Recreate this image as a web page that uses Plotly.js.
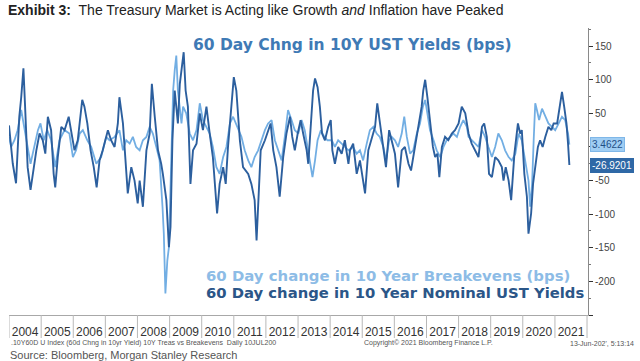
<!DOCTYPE html>
<html>
<head>
<meta charset="utf-8">
<script src="https://cdn.plot.ly/plotly-3.0.1.min.js"></script>
<style>html,body{margin:0;padding:0;background:#fff;}#chart{width:640px;height:361px;}</style>
</head>
<body>
<div id="chart"></div>
<script>
// ---- Data (time as decimal year, values in bps) ----
const nominalTime = [2004.00,2004.12,2004.22,2004.27,2004.32,2004.38,2004.45,2004.50,2004.53,2004.58,2004.67,2004.74,2004.85,2004.95,2005.05,2005.13,2005.21,2005.31,2005.39,2005.44,2005.52,2005.63,2005.73,2005.86,2005.94,2006.04,2006.14,2006.28,2006.35,2006.44,2006.54,2006.64,2006.73,2006.82,2006.92,2007.08,2007.18,2007.29,2007.39,2007.44,2007.55,2007.65,2007.70,2007.81,2007.91,2008.01,2008.07,2008.17,2008.28,2008.38,2008.45,2008.54,2008.64,2008.74,2008.79,2008.90,2008.98,2009.03,2009.09,2009.16,2009.21,2009.26,2009.32,2009.44,2009.50,2009.57,2009.65,2009.73,2009.84,2009.94,2010.04,2010.15,2010.25,2010.35,2010.48,2010.56,2010.67,2010.75,2010.82,2010.93,2011.00,2011.08,2011.19,2011.29,2011.45,2011.55,2011.65,2011.71,2011.76,2011.84,2011.97,2012.07,2012.15,2012.23,2012.33,2012.43,2012.54,2012.64,2012.75,2012.82,2012.90,2012.99,2013.08,2013.16,2013.27,2013.32,2013.40,2013.47,2013.53,2013.61,2013.68,2013.75,2013.84,2013.94,2014.02,2014.07,2014.15,2014.25,2014.36,2014.46,2014.57,2014.62,2014.72,2014.83,2014.93,2015.03,2015.09,2015.19,2015.30,2015.40,2015.47,2015.55,2015.66,2015.74,2015.84,2015.92,2016.02,2016.12,2016.23,2016.33,2016.44,2016.52,2016.65,2016.75,2016.85,2016.90,2016.96,2017.03,2017.11,2017.20,2017.27,2017.34,2017.40,2017.48,2017.58,2017.68,2017.79,2017.89,2018.00,2018.10,2018.21,2018.31,2018.41,2018.52,2018.62,2018.73,2018.80,2018.88,2018.95,2019.04,2019.14,2019.24,2019.35,2019.40,2019.47,2019.56,2019.64,2019.74,2019.85,2019.92,2019.97,2020.05,2020.13,2020.18,2020.26,2020.32,2020.39,2020.47,2020.54,2020.62,2020.70,2020.80,2020.89,2020.96,2021.07,2021.15,2021.22,2021.29,2021.36,2021.41,2021.45];
const nominalChange = [32,-25,-54,-5,45,74,117,60,25,-30,-64,-40,-5,20,10,-10,45,25,-40,-60,-15,30,25,45,20,-5,10,70,60,35,-5,-30,-60,-20,-5,25,10,0,35,74,35,-40,-69,-30,-50,-84,-50,-89,-5,20,94,45,-5,-25,-40,-79,-149,-119,10,84,60,35,94,141,84,60,-55,-5,5,50,25,60,20,-15,-99,-55,-30,-55,0,70,104,84,10,-30,-40,-55,-79,-139,-89,-5,10,25,35,-5,-30,-74,-15,20,45,15,-5,20,40,20,-5,-25,35,84,102,89,60,20,10,30,40,-5,-25,0,-10,10,-25,-5,5,-40,-20,-50,-69,-5,15,30,65,35,-5,-30,25,10,-10,-60,-5,0,-25,-35,0,30,60,84,100,74,35,0,-15,-10,-45,0,15,10,20,25,35,60,50,20,5,-5,-15,30,35,15,-40,-45,-15,-20,-30,-50,-30,-50,-79,-10,35,20,25,-40,-74,-129,-99,-55,-30,0,10,0,15,30,25,35,35,60,82,60,35,5,-26.9201];

const breakevenTime = [2004.00,2004.07,2004.17,2004.27,2004.38,2004.48,2004.58,2004.67,2004.79,2004.90,2004.98,2005.08,2005.19,2005.31,2005.44,2005.57,2005.73,2005.88,2005.99,2006.09,2006.20,2006.30,2006.44,2006.56,2006.72,2006.87,2007.03,2007.13,2007.29,2007.44,2007.55,2007.65,2007.76,2007.86,2007.96,2008.07,2008.17,2008.28,2008.38,2008.48,2008.59,2008.69,2008.78,2008.82,2008.87,2008.93,2008.98,2009.06,2009.11,2009.16,2009.21,2009.26,2009.32,2009.37,2009.42,2009.52,2009.63,2009.73,2009.84,2009.94,2010.04,2010.15,2010.25,2010.35,2010.46,2010.56,2010.67,2010.77,2010.88,2010.98,2011.13,2011.24,2011.34,2011.45,2011.55,2011.65,2011.76,2011.86,2011.97,2012.07,2012.18,2012.28,2012.38,2012.49,2012.59,2012.69,2012.80,2012.90,2013.01,2013.11,2013.21,2013.32,2013.40,2013.45,2013.53,2013.61,2013.71,2013.82,2013.92,2014.05,2014.15,2014.25,2014.36,2014.46,2014.57,2014.72,2014.83,2014.93,2015.03,2015.14,2015.24,2015.35,2015.45,2015.55,2015.66,2015.74,2015.84,2015.92,2016.02,2016.12,2016.23,2016.31,2016.39,2016.49,2016.59,2016.70,2016.80,2016.89,2016.96,2017.03,2017.11,2017.22,2017.32,2017.43,2017.53,2017.63,2017.74,2017.84,2017.95,2018.05,2018.15,2018.26,2018.31,2018.41,2018.52,2018.62,2018.73,2018.83,2018.93,2019.04,2019.14,2019.24,2019.35,2019.45,2019.56,2019.66,2019.77,2019.87,2019.97,2020.08,2020.18,2020.23,2020.29,2020.34,2020.39,2020.44,2020.51,2020.60,2020.70,2020.80,2020.91,2021.01,2021.12,2021.22,2021.32,2021.41,2021.45];
const breakevenChange = [15,0,10,25,55,30,0,-25,0,25,35,10,25,10,-30,10,25,20,-15,-5,20,25,10,0,-25,-15,15,10,15,25,-5,10,5,15,0,-5,10,15,30,20,0,-20,-89,-129,-218,-169,-149,-15,84,114,136,84,60,35,60,50,20,10,25,65,40,30,20,0,-30,-40,-15,0,35,45,27,15,-5,-20,-30,-15,-5,10,25,35,40,10,-5,-20,15,55,40,25,20,40,25,-5,-30,-45,-20,10,25,15,10,10,0,10,5,0,-5,0,-10,-5,-20,5,25,30,20,15,0,-20,10,15,10,0,20,45,15,-10,-5,20,35,60,70,50,25,10,-5,-15,0,10,15,20,15,30,40,30,15,10,5,0,25,15,0,-15,0,20,10,-5,-15,-20,-10,20,10,-20,-50,-89,-55,10,65,55,40,57,45,35,30,25,35,45,40,20,3.4622];

const yearLabels = [2004,2005,2006,2007,2008,2009,2010,2011,2012,2013,2014,2015,2016,2017,2018,2019,2020,2021];
const yTickVals = [-250,-200,-150,-100,-50,0,50,100,150];
const yTickText = ['','-200','-150','-100','-50','','50','100','150'];

const nominalName = '60 Day change in 10 Year Nominal UST Yields';
const breakevenName = '60 Day change in 10 Year Breakevens (bps)';

// ---- helpers ----
function toDate(t){
  const y = Math.floor(t);
  const a = Date.UTC(y,0,1), b = Date.UTC(y+1,0,1);
  return new Date(a + (t - y) * (b - a)).toISOString().slice(0,10);
}

const DARK = '#2c5f9e';
const LIGHT = '#72aee3';

const traces = [
  {x: breakevenTime.map(toDate), y: breakevenChange, type:'scatter', mode:'lines',
   line:{color:LIGHT, width:1.8}, name: breakevenName, hoverinfo:'skip'},
  {x: nominalTime.map(toDate), y: nominalChange, type:'scatter', mode:'lines',
   line:{color:DARK, width:1.9}, name: nominalName, hoverinfo:'skip'}
];

const lastNom = nominalChange[nominalChange.length-1];
const lastBe = breakevenChange[breakevenChange.length-1];
const paperY = py => (315 - py) / 287;

// year separators in the label strip under the plot
const boundaries = yearLabels.concat([yearLabels[yearLabels.length-1]+1]);
const shapes = boundaries.map(yr => ({
  type:'line', xref:'x', yref:'paper', x0:yr+'-01-01', x1:yr+'-01-01',
  y0:0, y1:paperY(338), line:{color:'#b8b8b8', width:1}
}));

const layout = {
  width:640, height:361,
  margin:{l:9, r:52, t:28, b:46, pad:0},
  paper_bgcolor:'#ffffff', plot_bgcolor:'#ffffff',
  showlegend:false,
  font:{family:'Liberation Sans, Arial, sans-serif', color:'#333'},
  title:{
    text:'<b>Exhibit 3:</b>  The Treasury Market is Acting like Growth <i>and</i> Inflation have Peaked',
    x:8/640, xanchor:'left', xref:'container', y:1-10/361, yanchor:'middle', yref:'container',
    font:{family:'Liberation Sans Narrow, Liberation Sans, Arial Narrow, sans-serif', size:14, color:'#222'}
  },
  shapes: shapes,
  xaxis:{
    type:'date', range:['2004-01-01','2022-01-12'],
    showgrid:false, zeroline:false,
    showline:true, linecolor:'#a8a8a8', linewidth:1,
    ticks:'', dtick:'M12', tick0:'2004-01-01', ticklabelmode:'period', tickformat:'%Y',
    tickfont:{size:12, color:'#333', family:'Liberation Sans, Arial, sans-serif'},
    ticklabelstandoff:6
  },
  yaxis:{
    side:'right', range:[-250,177],
    showgrid:false, zeroline:false,
    showline:true, linecolor:'#8a8a8a', linewidth:1,
    tickvals:yTickVals, ticktext:yTickText,
    ticks:'outside', ticklen:4, tickcolor:'#333', tickwidth:1,
    tickfont:{size:10, color:'#444', family:'Liberation Sans, Arial, sans-serif'},
    minor:{dtick:25, ticks:'outside', ticklen:2, tickcolor:'#777'}
  },
  annotations:[
    {xref:'paper', yref:'paper', x:(352-9)/579, y:paperY(45), xanchor:'center', yanchor:'middle',
     text:'<b>60 Day Chng in 10Y UST Yields (bps)</b>', showarrow:false,
     font:{family:'DejaVu Sans, Verdana, sans-serif', size:15.5, color:'#3f7ab5'}},
    {xref:'paper', yref:'paper', x:(204-9)/579, y:paperY(276), xanchor:'left', yanchor:'middle',
     text:'<b>'+breakevenName+'</b>', showarrow:false,
     font:{family:'DejaVu Sans, Verdana, sans-serif', size:14.9, color:'#8dbce6'}},
    {xref:'paper', yref:'paper', x:(204-9)/579, y:paperY(292), xanchor:'left', yanchor:'middle',
     text:'<b>'+nominalName+'</b>', showarrow:false,
     font:{family:'DejaVu Sans, Verdana, sans-serif', size:14.8, color:'#2b5688'}},
    {xref:'paper', yref:'y', x:1, y:lastBe, xanchor:'left', yanchor:'middle', xshift:2,
     text:lastBe.toFixed(4), showarrow:false, bgcolor:'#9fcdf3', bordercolor:'#7fb7e8', borderwidth:1, borderpad:1,
     font:{family:'Liberation Sans, Arial, sans-serif', size:10, color:'#1f4f86'}},
    {xref:'paper', yref:'y', x:1, y:lastNom, xanchor:'left', yanchor:'middle', xshift:2,
     text:lastNom.toFixed(4), showarrow:false, bgcolor:'#2f68a6', bordercolor:'#2f68a6', borderwidth:1, borderpad:1,
     font:{family:'Liberation Sans, Arial, sans-serif', size:10, color:'#ffffff'}},
    {xref:'paper', yref:'paper', x:0, y:paperY(343), xanchor:'left', yanchor:'middle',
     text:'.10Y60D U Index (60d Chng in 10yr Yield) 10Y Treas vs Breakevens  Daily 10JUL200', showarrow:false,
     font:{family:'Liberation Sans Narrow, Liberation Sans, sans-serif', size:7, color:'#555'}},
    {xref:'paper', yref:'paper', x:(362-9)/579, y:paperY(343), xanchor:'left', yanchor:'middle',
     text:'Copyright© 2021 Bloomberg Finance L.P.', showarrow:false,
     font:{family:'Liberation Sans Narrow, Liberation Sans, sans-serif', size:7, color:'#555'}},
    {xref:'paper', yref:'paper', x:(636-9)/579, y:paperY(343), xanchor:'right', yanchor:'middle',
     text:"13-Jun-202', 5:13:14", showarrow:false,
     font:{family:'Liberation Sans Narrow, Liberation Sans, sans-serif', size:7, color:'#555'}},
    {xref:'paper', yref:'paper', x:(8-9)/579, y:paperY(355), xanchor:'left', yanchor:'middle',
     text:'Source: Bloomberg, Morgan Stanley Research', showarrow:false,
     font:{family:'Liberation Sans, Arial, sans-serif', size:11, color:'#555'}}
  ]
};

Plotly.newPlot('chart', traces, layout, {staticPlot:true, displayModeBar:false});
</script>
</body>
</html>
